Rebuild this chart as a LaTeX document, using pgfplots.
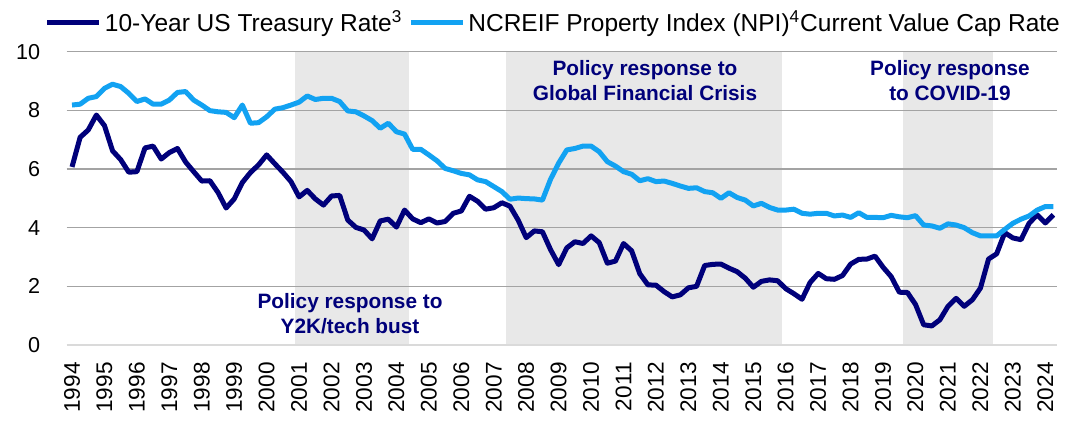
\documentclass[border=0pt]{standalone}
\usepackage{pgfplots}
\usepackage{pgfplotstable}
\pgfplotsset{compat=1.18}
\usepackage{fontspec}
\setmainfont{Liberation Sans}
\definecolor{navy}{HTML}{00007A}
\definecolor{lblue}{HTML}{12A2F2}
\definecolor{shade}{HTML}{E8E8E8}
\definecolor{gridc}{HTML}{A3A3A3}
\definecolor{zeroc}{HTML}{DADADA}

\pgfplotstableread{
x t n
1994.00 6.07 8.18
1994.25 7.08 8.21
1994.50 7.33 8.41
1994.75 7.84 8.47
1995.00 7.48 8.75
1995.25 6.62 8.89
1995.50 6.32 8.81
1995.75 5.89 8.58
1996.00 5.91 8.30
1996.25 6.72 8.39
1996.50 6.78 8.21
1996.75 6.34 8.21
1997.00 6.56 8.35
1997.25 6.70 8.61
1997.50 6.24 8.64
1997.75 5.91 8.35
1998.00 5.59 8.18
1998.25 5.60 7.99
1998.50 5.20 7.95
1998.75 4.67 7.93
1999.00 4.98 7.75
1999.25 5.54 8.18
1999.50 5.88 7.56
1999.75 6.14 7.58
2000.00 6.48 7.78
2000.25 6.18 8.04
2000.50 5.89 8.09
2000.75 5.57 8.18
2001.00 5.05 8.28
2001.25 5.27 8.49
2001.50 4.98 8.37
2001.75 4.77 8.41
2002.00 5.08 8.41
2002.25 5.10 8.30
2002.50 4.26 7.98
2002.75 4.01 7.95
2003.00 3.92 7.81
2003.25 3.62 7.65
2003.50 4.23 7.39
2003.75 4.29 7.56
2004.00 4.02 7.27
2004.25 4.60 7.19
2004.50 4.30 6.67
2004.75 4.17 6.67
2005.00 4.30 6.48
2005.25 4.16 6.28
2005.50 4.21 6.02
2005.75 4.49 5.94
2006.00 4.57 5.85
2006.25 5.07 5.80
2006.50 4.90 5.63
2006.75 4.63 5.57
2007.00 4.68 5.40
2007.25 4.85 5.23
2007.50 4.73 4.97
2007.75 4.26 5.01
2008.00 3.66 4.99
2008.25 3.89 4.98
2008.50 3.86 4.94
2008.75 3.25 5.65
2009.00 2.74 6.20
2009.25 3.31 6.65
2009.50 3.52 6.70
2009.75 3.46 6.78
2010.00 3.72 6.78
2010.25 3.49 6.59
2010.50 2.79 6.25
2010.75 2.86 6.10
2011.00 3.46 5.91
2011.25 3.21 5.82
2011.50 2.43 5.60
2011.75 2.05 5.67
2012.00 2.04 5.57
2012.25 1.82 5.59
2012.50 1.64 5.51
2012.75 1.71 5.42
2013.00 1.95 5.34
2013.25 2.00 5.36
2013.50 2.71 5.23
2013.75 2.75 5.19
2014.00 2.76 5.00
2014.25 2.62 5.19
2014.50 2.50 5.03
2014.75 2.28 4.94
2015.00 1.97 4.74
2015.25 2.17 4.83
2015.50 2.22 4.69
2015.75 2.19 4.60
2016.00 1.92 4.60
2016.25 1.75 4.63
2016.50 1.56 4.49
2016.75 2.13 4.46
2017.00 2.44 4.49
2017.25 2.26 4.49
2017.50 2.24 4.40
2017.75 2.37 4.43
2018.00 2.76 4.35
2018.25 2.92 4.51
2018.50 2.93 4.35
2018.75 3.03 4.35
2019.00 2.65 4.34
2019.25 2.33 4.42
2019.50 1.80 4.37
2019.75 1.79 4.34
2020.00 1.38 4.41
2020.25 0.69 4.09
2020.50 0.65 4.06
2020.75 0.86 3.98
2021.00 1.32 4.13
2021.25 1.59 4.09
2021.50 1.32 4.00
2021.75 1.54 3.83
2022.00 1.94 3.72
2022.25 2.93 3.72
2022.50 3.11 3.72
2022.75 3.83 3.94
2023.00 3.65 4.15
2023.25 3.59 4.29
2023.50 4.15 4.40
2023.75 4.44 4.60
2024.00 4.16 4.72
2024.25 4.44 4.72
}\ratedata

\begin{document}
\begin{tikzpicture}
\begin{axis}[
  at={(0,0)}, anchor=south west,
  set layers=standard,
  scale only axis,
  width=495.25pt, height=146.67pt,
  xmin=1993.83, xmax=2024.36,
  ymin=0, ymax=10,
  axis line style={draw=none},
  tick style={draw=none},
  xtick={1994,...,2024},
  ytick={2,4,6,8,10},
  extra y ticks={0},
  extra y tick style={grid style={draw=zeroc, line width=1pt}},
  ymajorgrids,
  grid style={draw=gridc, line width=0.8pt},
  major tick length=0pt,
  /pgf/number format/1000 sep={},
  /pgf/number format/assume math mode=true,
  xticklabel style={font=\fontsize{11.3}{12}\selectfont, rotate=90, anchor=east, inner sep=0pt, xshift=-8.5pt},
  yticklabel style={font=\fontsize{10.8}{12}\selectfont, anchor=east, inner sep=0pt, xshift=-13pt},
  legend columns=2,
  legend cell align=left,
  legend image code/.code={\draw[#1] (0pt,0pt) -- (26pt,0pt);},
  legend style={draw=none, fill=none, inner sep=0pt, outer sep=0pt,
    font=\fontsize{12.25}{13}\selectfont,
    at={(axis description cs:0,1)}, anchor=west, xshift=-10.75pt, yshift=14.5pt,
    nodes={inner xsep=1.5pt, inner ysep=0pt},
    /tikz/every even column/.append style={column sep=1.5pt}},
]
\addplot[on layer=axis background, fill=shade, draw=none, forget plot] coordinates {(2000.875,10) (2004.375,10)} \closedcycle;
\addplot[on layer=axis background, fill=shade, draw=none, forget plot] coordinates {(2007.375,10) (2015.875,10)} \closedcycle;
\addplot[on layer=axis background, fill=shade, draw=none, forget plot] coordinates {(2019.625,10) (2022.375,10)} \closedcycle;

\addplot[navy, line width=2.5pt, line join=round, no markers] table[x=x, y=t] {\ratedata};
\addlegendentry{10-Year US Treasury Rate\textsuperscript{3}}
\addplot[lblue, line width=2.5pt, line join=round, no markers] table[x=x, y=n] {\ratedata};
\addlegendentry{NCREIF Property Index (NPI)\textsuperscript{4}Current Value Cap Rate}

\node[font=\fontsize{10.4}{12.25}\selectfont\bfseries, text=navy, align=center] at (axis cs:2002.57,1.06) {Policy response to\\Y2K/tech bust};
\node[font=\fontsize{10.4}{12.25}\selectfont\bfseries, text=navy, align=center] at (axis cs:2011.66,9.01) {Policy response to\\Global Financial Crisis};
\node[font=\fontsize{10.4}{12.25}\selectfont\bfseries, text=navy, align=center] at (axis cs:2021.06,9.01) {Policy response\\to COVID-19};
\end{axis}
\pgfresetboundingbox
\path[use as bounding box] (-33.25pt,-37.5pt) rectangle (502.75pt,172.5pt);
\end{tikzpicture}
\end{document}
